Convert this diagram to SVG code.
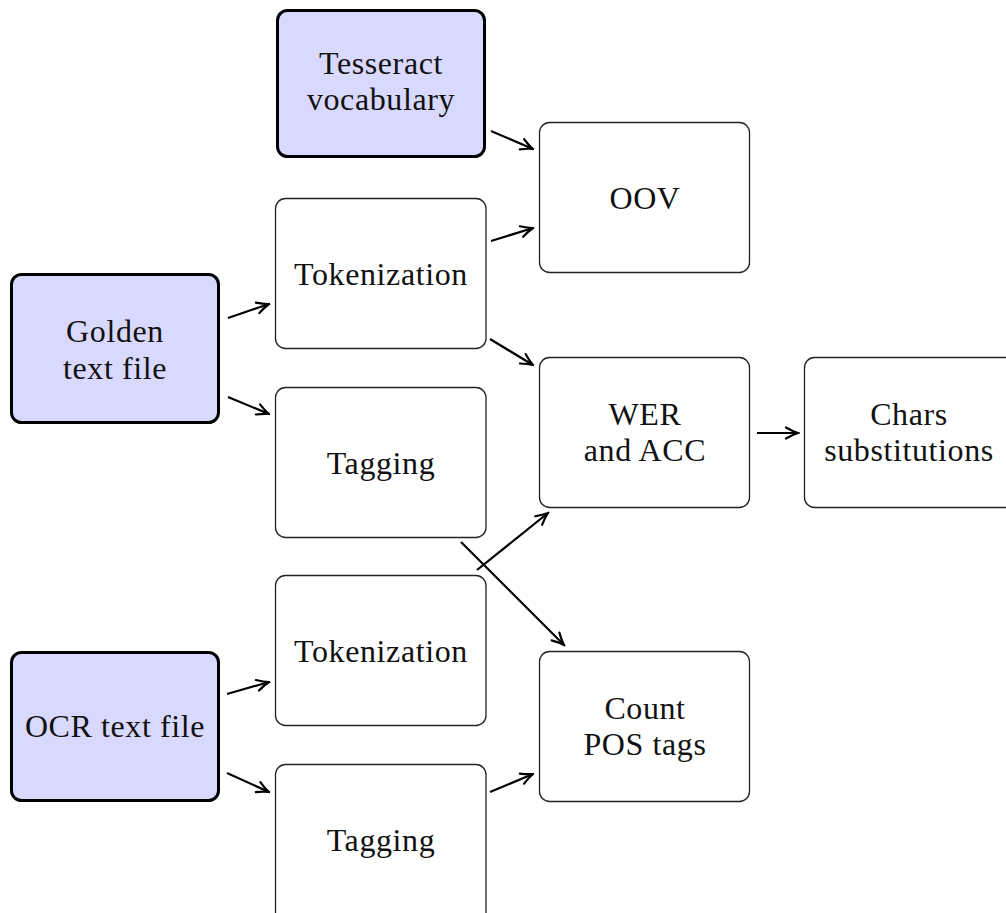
<svg xmlns="http://www.w3.org/2000/svg" width="1006" height="913" viewBox="0 0 1006 913">
<style>
.box{fill:#fff;stroke:#222;stroke-width:1.3}
.src{fill:#d9d9ff;stroke:#000;stroke-width:3}
text{font-family:"Liberation Serif","DejaVu Serif",serif;font-size:32px;fill:#111;text-anchor:middle;letter-spacing:0.6px}
.edge{stroke:#000;stroke-width:2.2;fill:none;marker-end:url(#arr)}
</style>
<defs>
<marker id="arr" markerWidth="16" markerHeight="14" refX="1" refY="0" viewBox="-13 -7 15 14" orient="auto" markerUnits="userSpaceOnUse">
<path d="M-11,-5.5 Q-4,-1.5 1,0 Q-4,1.5 -11,5.5" fill="none" stroke="#000" stroke-width="2.2" stroke-linecap="round"/>
</marker>
</defs>
<rect width="1006" height="913" fill="#fff"/>
<g id="tesseract"><rect class="src" x="277.5" y="10.5" width="207" height="146" rx="10"/><text x="381" y="74">Tesseract</text><text x="381" y="110">vocabulary</text></g>
<g id="oov"><rect class="box" x="539.5" y="122.5" width="210" height="150" rx="10"/><text x="645" y="209">OOV</text></g>
<g id="tok1"><rect class="box" x="275.5" y="198.5" width="210.5" height="150" rx="10"/><text x="381" y="285">Tokenization</text></g>
<g id="golden"><rect class="src" x="11.5" y="274.5" width="207" height="148" rx="10"/><text x="115" y="342">Golden</text><text x="115" y="379">text file</text></g>
<g id="tag1"><rect class="box" x="275.5" y="387.5" width="210.5" height="150" rx="10"/><text x="381" y="474">Tagging</text></g>
<g id="wer"><rect class="box" x="539.5" y="357.5" width="210" height="150" rx="10"/><text x="645" y="425">WER</text><text x="645" y="461">and ACC</text></g>
<g id="chars"><rect class="box" x="804.5" y="357.5" width="212" height="150" rx="10"/><text x="909" y="425">Chars</text><text x="909" y="461">substitutions</text></g>
<g id="tok2"><rect class="box" x="275.5" y="575.5" width="210.5" height="150" rx="10"/><text x="381" y="662">Tokenization</text></g>
<g id="ocr"><rect class="src" x="11.5" y="652.5" width="207" height="148" rx="10"/><text x="115" y="737">OCR text file</text></g>
<g id="count"><rect class="box" x="539.5" y="651.5" width="210" height="150" rx="10"/><text x="645" y="719">Count</text><text x="645" y="755">POS tags</text></g>
<g id="tag2"><rect class="box" x="275.5" y="764.5" width="210.5" height="160" rx="10"/><text x="381" y="851">Tagging</text></g>
<g id="connectors">
<line class="edge" x1="491" y1="131" x2="533" y2="149"/>
<line class="edge" x1="491" y1="241" x2="533" y2="228"/>
<line class="edge" x1="490" y1="339" x2="533" y2="365"/>
<line class="edge" x1="228" y1="318" x2="269" y2="304"/>
<line class="edge" x1="228" y1="397" x2="269" y2="414"/>
<line class="edge" x1="461" y1="542" x2="564" y2="645"/>
<line class="edge" x1="477" y1="570" x2="548" y2="513"/>
<line class="edge" x1="757" y1="433" x2="798" y2="433"/>
<line class="edge" x1="227" y1="694" x2="269" y2="682"/>
<line class="edge" x1="227" y1="773" x2="269" y2="792"/>
<line class="edge" x1="490" y1="792" x2="533" y2="774"/>
</g>
</svg>
